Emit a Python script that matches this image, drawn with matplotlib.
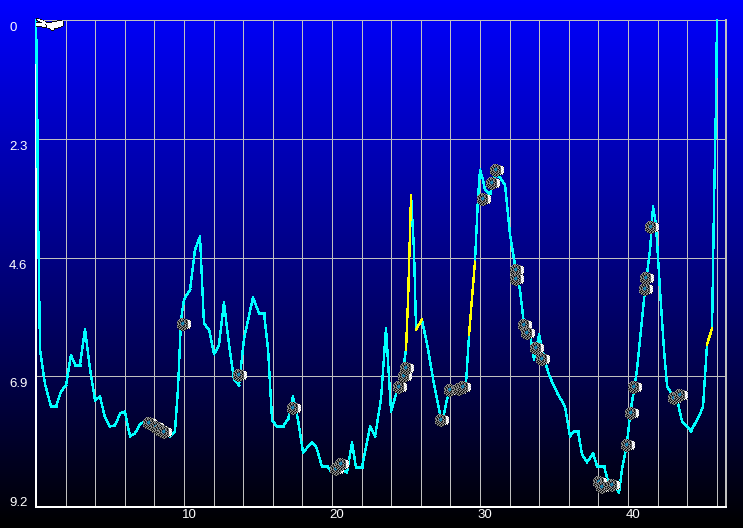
import numpy as np
import matplotlib
matplotlib.use("Agg")
import matplotlib.pyplot as plt
from matplotlib.offsetbox import OffsetImage, AnnotationBbox
from matplotlib.transforms import ScaledTranslation

# ---- data ----
time_values = [0, 0.07, 0.14, 0.27, 0.61, 1.01, 1.35, 1.69, 2.03, 2.36, 2.64, 2.97, 3.31, 3.65, 3.99, 4.32,
    4.66, 5.00, 5.34, 5.68, 6.01, 6.35, 6.69, 7.03, 7.43, 7.84, 8.24, 8.72, 9.05, 9.39, 9.59, 9.80,
    10.0, 10.41, 10.74, 11.08, 11.35, 11.69, 12.03, 12.36, 12.70, 13.04, 13.38, 13.72, 14.05, 14.66,
    15.07, 15.41, 15.68, 15.95, 16.28, 16.69, 17.03, 17.36, 17.70, 18.04, 18.65, 18.92, 19.32, 19.66,
    20.0, 20.54, 21.01, 21.35, 21.62, 22.03, 22.57, 22.91, 23.31, 23.65, 23.99, 24.32, 24.66, 25.0,
    25.14, 25.34, 25.54, 25.68, 26.08, 26.49, 26.89, 27.30, 27.50, 27.77, 28.04, 28.65, 29.05, 29.26,
    29.66, 29.86, 30.0, 30.20, 30.34, 30.68, 31.01, 31.35, 31.69, 32.03, 32.36, 32.70, 32.97, 33.38,
    33.65, 33.99, 34.39, 34.66, 34.93, 35.27, 35.74, 36.08, 36.35, 36.62, 36.89, 37.23, 37.64, 37.91,
    38.38, 38.78, 39.32, 39.39, 39.59, 39.93, 40.14, 40.41, 40.61, 40.81, 41.15, 41.49, 41.69, 41.89,
    42.16, 42.43, 42.64, 42.97, 43.31, 43.65, 44.26, 44.86, 45.07, 45.34, 45.68, 45.81, 45.95, 46.01]
depth_values = [0, 1.26, 3.77, 6.38, 7.05, 7.48, 7.48, 7.19, 7.07, 6.49, 6.67, 6.67, 5.99, 6.76, 7.36, 7.29,
    7.69, 7.87, 7.85, 7.62, 7.58, 8.06, 8.00, 7.83, 7.75, 7.85, 7.96, 8.04, 8.06, 7.96, 7.15, 5.80,
    5.41, 5.22, 4.45, 4.19, 5.88, 5.99, 6.47, 6.30, 5.47, 6.28, 6.96, 7.07, 6.18, 5.37,
    5.68, 5.68, 6.38, 7.75, 7.87, 7.87, 7.73, 7.29, 7.73, 8.37, 8.18, 8.25, 8.64, 8.64,
    8.76, 8.70, 8.76, 8.18, 8.66, 8.66, 7.87, 8.06, 7.34, 5.97, 7.58, 7.25, 7.05, 6.38,
    5.41, 3.40, 4.45, 5.99, 5.80, 6.38, 7.05, 7.63, 7.73, 7.34, 7.19, 7.15, 7.05, 6.09,
    4.68, 3.48, 2.90, 3.09, 3.29, 3.38, 3.00, 3.05, 3.19, 4.16, 4.74, 5.22, 5.89, 6.09,
    6.57, 6.09, 6.61, 6.86, 7.05, 7.25, 7.48, 8.06, 7.96, 7.96, 8.41, 8.56, 8.39, 8.64,
    8.64, 9.08, 9.10, 9.16, 8.70, 8.21, 7.63, 7.15, 6.76, 6.18, 5.22, 4.45, 3.61, 3.96,
    5.22, 6.38, 7.09, 7.25, 7.34, 7.77, 7.96, 7.63, 7.48, 6.28, 5.97, 3.58, 1.55, 0]
yellow_starts = [25.0, 25.14, 25.68, 29.26, 45.34]

camera_time = [7.70, 8.18, 8.45, 8.72, 10.0, 13.78, 17.43, 20.34, 20.68, 24.59, 24.93, 25.07,
    27.43, 28.04, 28.65, 28.92, 30.27, 30.88, 31.15, 32.50, 32.50, 33.04, 33.24, 33.85, 34.26,
    38.11, 38.31, 38.99, 40.0, 40.27, 40.47, 41.22, 41.28, 41.62, 43.18, 43.58]
camera_depth = [7.81, 7.89, 7.94, 7.98, 5.89, 6.88, 7.52, 8.70, 8.60, 7.11, 6.90, 6.75,
    7.75, 7.17, 7.15, 7.11, 3.48, 3.17, 2.92, 4.85, 5.03, 5.91, 6.07, 6.36, 6.57,
    8.95, 9.05, 9.01, 8.23, 7.62, 7.11, 5.22, 5.01, 4.02, 7.33, 7.27]

y_ticks = [0, 2.3, 4.6, 6.9]
y_labels = ["0", "2.3", "4.6", "6.9"]
x_major = [10, 20, 30, 40]
x_minor = list(range(2, 47, 2))

W, H = 743, 528
fig = plt.figure(figsize=(W / 100, H / 100), dpi=100)

# background gradient
bg = fig.add_axes([0, 0, 1, 1], zorder=0)
grad = np.zeros((H, 1, 3))
grad[:, 0, 2] = np.linspace(1, 0, H)
bg.imshow(grad, aspect="auto", interpolation="nearest")
bg.axis("off")

L, R, T, B = 36, 725.5, 20, 506.5
ax = fig.add_axes([L / W, 1 - B / H, (R - L) / W, (B - T) / H], zorder=1)
ax.patch.set_visible(False)
PX_X, PX_Y = 14.8, 51.65
ax.set_xlim(0, (R - L) / PX_X)
ax.set_ylim((B - T) / PX_Y, 0)

GRID = "#c0c0c0"
ax.set_xticks(x_minor)
ax.set_yticks(y_ticks)
ax.grid(True, color=GRID, lw=0.72, antialiased=False, zorder=1)
ax.tick_params(length=0, colors="white")
ax.set_xticklabels([str(v) if v in x_major else "" for v in x_minor],
                   color="white", fontsize=9.5, family="Liberation Sans")
ax.set_yticklabels([], color="white")

for side in ("left", "bottom"):
    ax.spines[side].set_color("white")
    ax.spines[side].set_linewidth(1.44)
ax.spines["right"].set_color(GRID)
ax.spines["right"].set_linewidth(1.44)
ax.spines["top"].set_color(GRID)
ax.spines["top"].set_linewidth(0.72)

# x labels are drawn right of their gridline; y labels below theirs
shift = ScaledTranslation(5 / 100, 2 / 100, fig.dpi_scale_trans)
for lab in ax.get_xticklabels():
    lab.set_transform(lab.get_transform() + shift)
ytrans = ax.get_yaxis_transform()
for v, s in zip(y_ticks + [9.2], y_labels + ["9.2"]):
    ax.text(-27 / (R - L), v, s, transform=ytrans, color="white", fontsize=9.5,
            family="Liberation Sans", ha="left", va="center",
            clip_on=False)._transform = ytrans + ScaledTranslation(0, -8 / 100, fig.dpi_scale_trans)

# profile
for i in range(len(time_values) - 1):
    yellow = time_values[i] in yellow_starts
    ax.plot(time_values[i:i + 2], depth_values[i:i + 2],
            color="#ffff00" if yellow else "#00ffff", lw=1.0,
            antialiased=False, solid_capstyle="projecting", zorder=3 + yellow,
            clip_on=False)

# camera icon
PAL = {".": (0, 0, 0, 0), "k": (0.05, 0.05, 0.05, 1), "d": (0.35, 0.35, 0.35, 1),
       "g": (0.6, 0.6, 0.6, 1), "l": (0.8, 0.8, 0.8, 1), "w": (1, 1, 1, 1),
       "c": (0.1, 0.55, 0.7, 1), "b": (0, 0.2, 0.4, 1)}
ICON = ["...gdgkg......",
        "..gkgdgkdgd...",
        ".gdkgdkgdklwwk",
        "dkgdkdbgdkdwlw",
        "gdkgbccdgkdwwl",
        "dgkdcccbkgdlww",
        "kgdgbccdgkdwwl",
        "gdkdgbdkgddwlw",
        "dkgkdgkdgkdlww",
        "gdkgdkgdkgdwwk",
        ".kgdkgkdgkwkl.",
        "..dkgdkgdk....",
        "....kdgk......"]
icon = np.array([[PAL[c] for c in row] for row in ICON])
for t, d in zip(camera_time, camera_depth):
    ab = AnnotationBbox(OffsetImage(icon, zoom=1, dpi_cor=False, interpolation="nearest"),
                        (t, d), frameon=False, pad=0, zorder=5,
                        annotation_clip=False)
    ax.add_artist(ab)

# pointer hand at the top of the trace
HAND = ["kkk.........................",
        "kwwwkk......................",
        "kkwwwwwk.............kkkkk..",
        "..kkwwwwwk......kkkkkwwwwwwk",
        "kkkkkkwwwwkkkkkkwwwwwwwwwwwk",
        "wwwwwwwwwwwwwwwwwwwwwwwwwwwk",
        "wwwwwwwwwkwwwwwwwwwwwwwwwwwk",
        "wwwwwwwwwwkwwwwwwwwwwwwwwwwk",
        "kkkkkkwwwwkwwwwwwwwwwwwwwkk.",
        "......kkkkkwwwwwwwwwwwkkk...",
        "............kkwwwwkkkk......",
        "..............kwwwk.........",
        "...............kkk.........."]
hand = np.array([[PAL[c] for c in row] for row in HAND])
hb = AnnotationBbox(OffsetImage(hand, zoom=1, dpi_cor=False, interpolation="nearest"),
                    (0, 0), xybox=(0, -3.2), xycoords="data", boxcoords="offset points",
                    box_alignment=(0, 0.5), frameon=False, pad=0, zorder=6,
                    annotation_clip=False)
ax.add_artist(hb)

fig.savefig("out.png", dpi=100)
